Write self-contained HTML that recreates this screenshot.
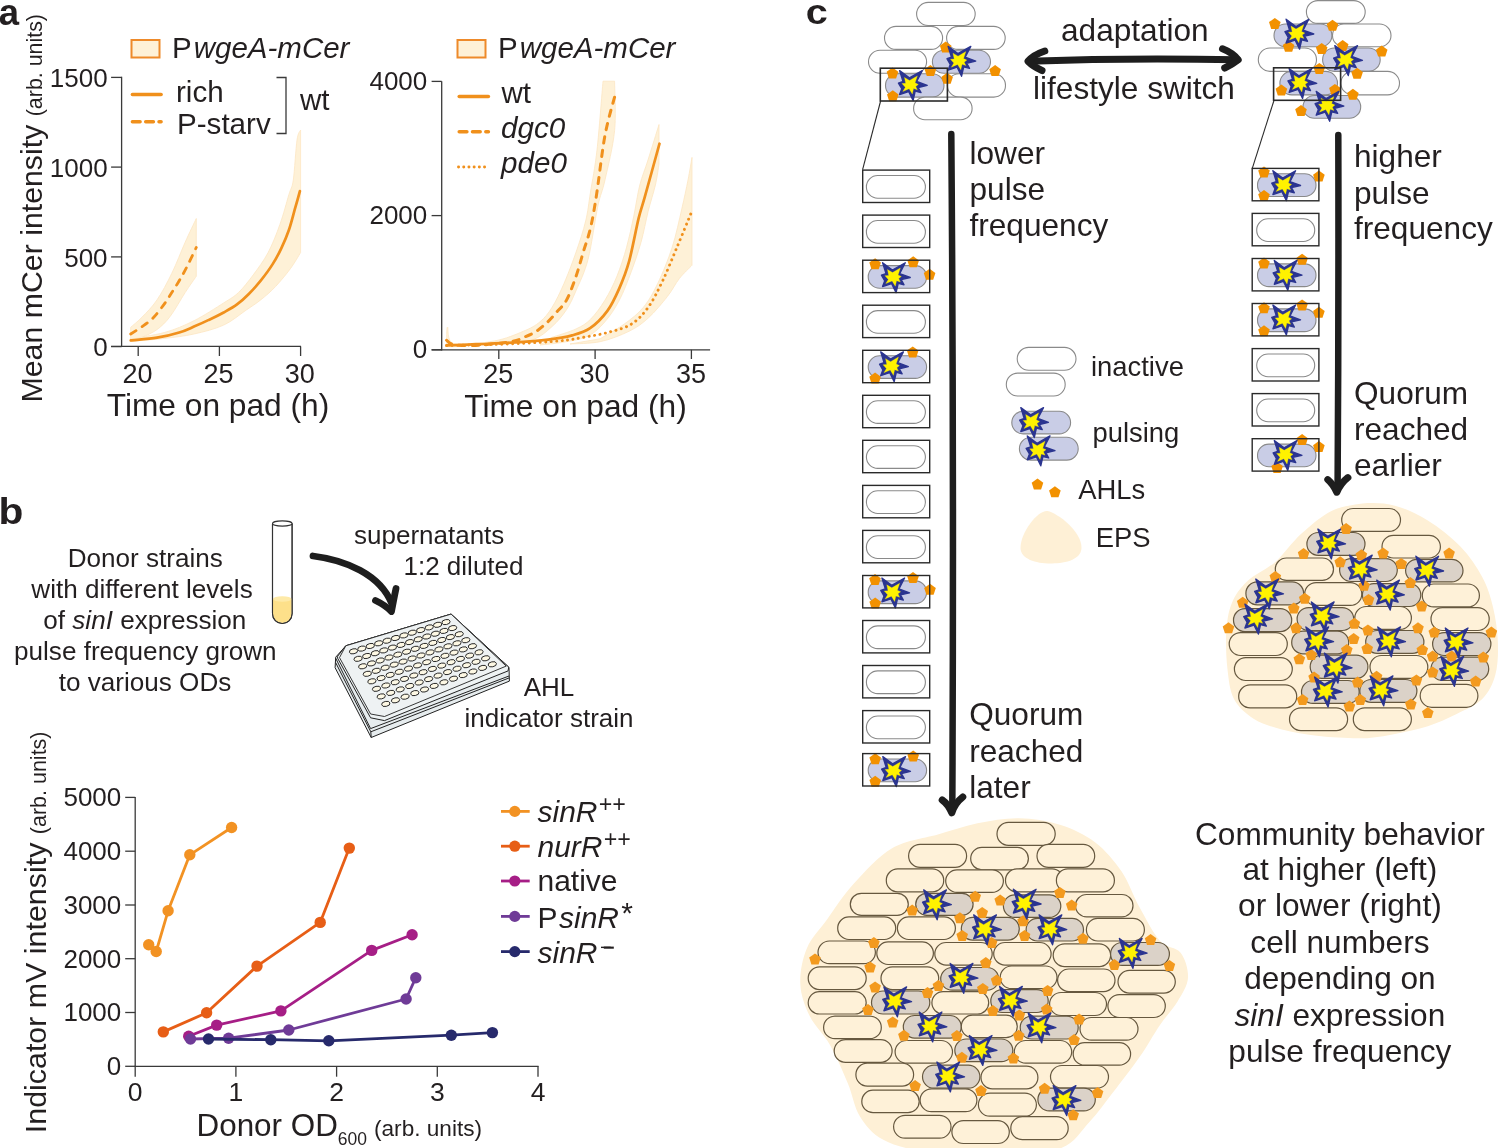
<!DOCTYPE html>
<html><head><meta charset="utf-8"><style>
html,body{margin:0;padding:0;background:#fff;}
svg{display:block;will-change:transform;}
text{font-family:"Liberation Sans",sans-serif;}
</style></head><body>
<svg width="1499" height="1148" viewBox="0 0 1499 1148" font-family="Liberation Sans, sans-serif">
<rect width="1499" height="1148" fill="#fff"/>
<defs><polygon id="pg" points="0,-6.1 5.8,-1.9 3.6,4.9 -3.6,4.9 -5.8,-1.9"/><g id="st"><path d="M-10,-14.8 L0.1,-7.3 L13.4,-14.8 L7.6,-3.6 L18.5,0.4 L9.2,2.6 L12.1,7.9 L6.1,6.4 L3.9,16 L-0.7,6.7 L-10,9.8 L-7.8,3.8 L-11.2,-2 L-6.5,-3.6 Z" fill="#2b3590" stroke="#2b3590" stroke-width="1.4" stroke-linejoin="round" transform="scale(0.97)"/><path d="M-5.3,-7.8 L-0.1,-4.7 L8,-9.4 L5.6,-2.2 L9,-0.6 L6.3,1.5 L8,5 L4.1,3.7 L2.8,9.4 L-0.5,3.9 L-7,6.7 L-4.4,2.4 L-7.9,-1.5 L-4,-1.7 Z" fill="#fff200" stroke="#fff200" stroke-width="0.3" stroke-linejoin="round" transform="translate(0.3,0) scale(0.97)"/></g></defs>
<text x="-1.2" y="24.7" font-size="36.5" font-weight="bold" fill="#231f20">a</text>
<rect x="131.5" y="40" width="28" height="17.5" fill="#fef1d7" stroke="#ee8a2a" stroke-width="2"/>
<text x="172" y="58" font-size="29.5" fill="#231f20">P<tspan dx="2" font-style="italic">wgeA-mCer</tspan></text>
<line x1="132.4" y1="94.4" x2="161.1" y2="94.4" stroke="#f0901c" stroke-width="3.5" stroke-linecap="round"/>
<line x1="132.4" y1="121.8" x2="161.1" y2="121.8" stroke="#f0901c" stroke-width="3.5" stroke-linecap="round" stroke-dasharray="7.7,5.6"/>
<text x="176" y="101.5" font-size="29.6" fill="#231f20">rich</text>
<text x="177" y="133.5" font-size="29.6" fill="#231f20">P-starv</text>
<path d="M276.5,77.5 H286 V133.5 H276.5" fill="none" stroke="#3a3a3a" stroke-width="1.3"/>
<text x="300" y="110.2" font-size="29.6" fill="#231f20">wt</text>
<line x1="121.6" y1="76.8" x2="121.6" y2="347" stroke="#3a3a3a" stroke-width="1.3"/>
<line x1="111.1" y1="346.4" x2="301" y2="346.4" stroke="#3a3a3a" stroke-width="1.3"/>
<line x1="111.1" y1="77.4" x2="121.6" y2="77.4" stroke="#3a3a3a" stroke-width="1.3"/>
<text x="107.6" y="87.2" font-size="26" text-anchor="end" fill="#231f20">1500</text>
<line x1="111.1" y1="167.1" x2="121.6" y2="167.1" stroke="#3a3a3a" stroke-width="1.3"/>
<text x="107.6" y="176.9" font-size="26" text-anchor="end" fill="#231f20">1000</text>
<line x1="111.1" y1="256.9" x2="121.6" y2="256.9" stroke="#3a3a3a" stroke-width="1.3"/>
<text x="107.6" y="266.7" font-size="26" text-anchor="end" fill="#231f20">500</text>
<line x1="111.1" y1="346.6" x2="121.6" y2="346.6" stroke="#3a3a3a" stroke-width="1.3"/>
<text x="107.6" y="356.4" font-size="26" text-anchor="end" fill="#231f20">0</text>
<line x1="138.2" y1="346.4" x2="138.2" y2="356" stroke="#3a3a3a" stroke-width="1.3"/>
<text x="137.4" y="383.2" font-size="27" text-anchor="middle" fill="#231f20">20</text>
<line x1="219.4" y1="346.4" x2="219.4" y2="356" stroke="#3a3a3a" stroke-width="1.3"/>
<text x="218.6" y="383.2" font-size="27" text-anchor="middle" fill="#231f20">25</text>
<line x1="300.6" y1="346.4" x2="300.6" y2="356" stroke="#3a3a3a" stroke-width="1.3"/>
<text x="299.8" y="383.2" font-size="27" text-anchor="middle" fill="#231f20">30</text>
<text x="218" y="415.5" font-size="31.7" text-anchor="middle" fill="#231f20">Time on pad (h)</text>
<text transform="translate(41.5,402.5) rotate(-90)" font-size="30.3" fill="#231f20">Mean mCer intensity <tspan font-size="21.4">(arb. units)</tspan></text>
<path d="M130.7,338.4 C136.3,337.5 153.9,335.5 164.4,332.5 C175,329.6 184.2,325.6 194,320.7 C203.9,315.7 216.3,307.6 223.7,302.9 C231.1,298.2 233.5,297.2 238.5,292.5 C243.4,287.9 248.3,281.4 253.3,274.8 C258.2,268.1 263.6,261 268.1,252.6 C272.5,244.2 276.5,234.1 279.9,224.4 C283.4,214.8 286.6,202.2 288.8,194.8 C291,187.4 291.9,189.1 293.3,180 C294.6,170.9 295.8,148.3 297,140 C298.2,131.7 300,131.7 300.6,130 L300.6,252.6 C298.9,255.3 294.5,263.2 290.3,268.8 C286.1,274.5 280.4,281.4 275.5,286.6 C270.6,291.8 265.6,296 260.7,299.9 C255.7,303.9 252,306.1 245.9,310.3 C239.7,314.5 232.3,321.2 223.7,325.1 C215,329.1 203.9,331.8 194,334 C184.2,336.2 175,337.2 164.4,338.4 C153.9,339.7 136.3,340.9 130.7,341.4 Z" fill="#fef1d7" stroke="#fde6c3" stroke-width="0.8"/>
<path d="M130.7,327.3 C132.6,325.6 137.8,321.5 142.2,317 C146.6,312.4 152.1,307.2 157,299.9 C162,292.7 167.1,282.9 171.8,273.3 C176.5,263.7 181.1,251.3 185.2,242.2 C189.2,233.1 194.4,222.5 196.3,218.5 L196.3,276.3 C194.4,279 189.5,285.9 185.2,292.5 C180.8,299.2 175,310.1 170.3,316.2 C165.7,322.4 161.7,326.1 157,329.6 C152.3,333 146.6,335.4 142.2,337 C137.8,338.6 132.6,338.8 130.7,339.2 Z" fill="#fef1d7" stroke="#fde6c3" stroke-width="0.8"/>
<path d="M130.7,340.4 C135.1,339.9 148.9,339 157,337.7 C165.1,336.4 173.1,334.4 179.2,332.5 C185.4,330.7 189.1,328.7 194,326.6 C199,324.5 203.9,322.3 208.8,319.9 C213.8,317.6 219,315.1 223.7,312.5 C228.3,309.9 232.8,307.5 237,304.4 C241.2,301.3 244.9,298 248.8,294 C252.8,290.1 256.7,285.6 260.7,280.7 C264.6,275.8 269.1,269.8 272.5,264.4 C276,259 278.7,253.8 281.4,248.1 C284.1,242.4 286.6,236.8 288.8,230.3 C291,223.9 292.9,216.2 294.7,209.6 C296.6,203.1 299.1,194.2 299.9,191.1" fill="none" stroke="#f0901c" stroke-width="2.7" stroke-linecap="round"/>
<path d="M130.7,334 C132.6,332.8 138.6,329.2 142.2,326.6 C145.9,324 149.1,321.9 152.6,318.5 C156,315 159.7,310.2 162.9,305.9 C166.2,301.6 169.1,296.7 171.8,292.5 C174.5,288.3 176.8,284.9 179.2,280.7 C181.7,276.5 183.8,272.9 186.6,267.4 C189.5,261.8 194.7,250.7 196.3,247.4" fill="none" stroke="#f0901c" stroke-width="2.8" stroke-linecap="round" stroke-dasharray="6.3,7.3"/>
<rect x="457.5" y="40" width="28" height="17.5" fill="#fef1d7" stroke="#ee8a2a" stroke-width="2"/>
<text x="498" y="57.7" font-size="29.5" fill="#231f20">P<tspan dx="2" font-style="italic">wgeA-mCer</tspan></text>
<line x1="459.2" y1="96.4" x2="488.4" y2="96.4" stroke="#f0901c" stroke-width="3.5" stroke-linecap="round"/>
<line x1="459.2" y1="131.7" x2="488.4" y2="131.7" stroke="#f0901c" stroke-width="3.5" stroke-linecap="round" stroke-dasharray="7.7,5.6"/>
<line x1="458.5" y1="167" x2="489.5" y2="167" stroke="#f0901c" stroke-width="2.9" stroke-linecap="round" stroke-dasharray="0.1,5.1"/>
<text x="501.5" y="103" font-size="29.6" fill="#231f20">wt</text>
<text x="501" y="138" font-size="29.6" font-style="italic" fill="#231f20">dgc0</text>
<text x="501" y="173" font-size="29.6" font-style="italic" fill="#231f20">pde0</text>
<line x1="441.7" y1="81.2" x2="441.7" y2="350.4" stroke="#3a3a3a" stroke-width="1.3"/>
<line x1="431.6" y1="349.8" x2="710.1" y2="349.8" stroke="#3a3a3a" stroke-width="1.3"/>
<line x1="431.6" y1="81.4" x2="441.7" y2="81.4" stroke="#3a3a3a" stroke-width="1.3"/>
<text x="427.3" y="89.8" font-size="26" text-anchor="end" fill="#231f20">4000</text>
<line x1="431.6" y1="215.6" x2="441.7" y2="215.6" stroke="#3a3a3a" stroke-width="1.3"/>
<text x="427.3" y="224" font-size="26" text-anchor="end" fill="#231f20">2000</text>
<line x1="431.6" y1="349.8" x2="441.7" y2="349.8" stroke="#3a3a3a" stroke-width="1.3"/>
<text x="427.3" y="358.2" font-size="26" text-anchor="end" fill="#231f20">0</text>
<line x1="498.8" y1="349.8" x2="498.8" y2="359" stroke="#3a3a3a" stroke-width="1.3"/>
<text x="498.3" y="383.2" font-size="27" text-anchor="middle" fill="#231f20">25</text>
<line x1="595.1" y1="349.8" x2="595.1" y2="359" stroke="#3a3a3a" stroke-width="1.3"/>
<text x="594.6" y="383.2" font-size="27" text-anchor="middle" fill="#231f20">30</text>
<line x1="691.4" y1="349.8" x2="691.4" y2="359" stroke="#3a3a3a" stroke-width="1.3"/>
<text x="690.9" y="383.2" font-size="27" text-anchor="middle" fill="#231f20">35</text>
<text x="575.5" y="416.5" font-size="31.7" text-anchor="middle" fill="#231f20">Time on pad (h)</text>
<path d="M446.6,344.5 C446.8,341.6 446.3,327.1 447.5,327 C448.7,326.9 446.2,341.7 454,344 C461.8,346.3 482.9,343 494.5,340.9 C506.1,338.8 515.7,334.5 523.3,331.3 C530.9,328.1 535.3,325.7 540.1,321.7 C544.9,317.7 548.1,313.7 552.1,307.3 C556.1,300.9 560.1,292.5 564.1,283.3 C568.1,274.1 572.5,262.4 576.1,252 C579.7,241.6 583.3,230.8 585.7,220.8 C588.1,210.8 588.6,203.8 590.5,192 C592.4,180.2 594.9,168.5 597,150 C599.1,131.5 602,92.7 603,81.2 L614.6,81.2 C614.6,89.4 616.2,114 614.6,130.5 C613,147 607.8,167.3 605,180 C602.2,192.7 600.6,193.2 597.8,206.4 C595,219.6 591.7,245.2 588.1,259.2 C584.5,273.2 579.7,282.1 576.1,290.5 C572.5,298.9 570.5,303.7 566.5,309.7 C562.5,315.7 557.7,321.5 552.1,326.5 C546.5,331.5 540.9,336.9 532.9,339.7 C524.9,342.5 516.9,342.2 504.1,343.3 C491.3,344.4 465.6,346 456,346.5 C446.4,347 448.2,346.5 446.6,346.5 Z" fill="#fef1d7" stroke="#fde6c3" stroke-width="0.8"/>
<path d="M552.1,337.3 C556.1,335.9 569.7,331.9 576.1,328.9 C582.5,325.9 585.7,324.1 590.5,319.3 C595.3,314.5 600.6,307.3 605,300.1 C609.4,292.9 613.4,284.9 617,276.1 C620.6,267.3 623.8,257.2 626.6,247.2 C629.4,237.2 631.6,226.4 633.8,216 C636,205.6 637.4,194.3 639.8,185 C642.2,175.7 644.8,170.1 648,160 C651.2,149.9 657.2,130.4 659,124.5 L659,164.1 C658.4,167.6 657.2,177.2 655.4,185 C653.6,192.8 650.6,201.6 648.2,211.2 C645.8,220.8 643.8,232.4 641,242.4 C638.2,252.4 635,261.7 631.4,271.3 C627.8,280.9 623.8,291.7 619.4,300.1 C615,308.5 610.2,315.7 605,321.7 C599.8,327.7 594.9,332.7 588.1,336.1 C581.3,339.5 572.1,340.6 564.1,342.1 C556.1,343.6 544,344.5 540,345 Z" fill="#fef1d7" stroke="#fde6c3" stroke-width="0.8"/>
<path d="M600.2,338.7 C604.2,336.3 617,329.3 624.2,324.1 C631.4,318.9 637.8,314.1 643.4,307.3 C649,300.5 653,293.3 657.8,283.3 C662.6,273.3 668.2,259.6 672.2,247.2 C676.2,234.8 679.2,220 681.8,208.8 C684.4,197.6 686.3,188.6 688,180 C689.7,171.4 691.3,161.2 692,157.4 L692,265.3 C689.9,267.5 683.5,273.3 679.4,278.5 C675.3,283.7 672.6,289.9 667.4,296.5 C662.2,303.1 654.6,312.3 648.2,318.1 C641.8,323.9 637,327.4 629,331.3 C621,335.2 610,339.6 600.2,341.7 C590.4,343.8 575,343.6 570,344 Z" fill="#fef1d7" stroke="#fde6c3" stroke-width="0.8"/>
<path d="M446.6,345.4 C451.5,345.2 465.1,344.7 476,344.2 C486.9,343.7 500,343.4 512,342.6 C524,341.8 538,340.8 548,339.6 C558,338.4 565.1,337.3 572.1,335.4 C579.1,333.5 584.2,332.3 590.1,328.2 C596,324.1 602.5,317.6 607.4,310.9 C612.3,304.2 615.8,296.3 619.4,288.1 C623,279.9 625.8,273.3 629,261.7 C632.2,250.1 636,229.1 638.6,218.4 C641.2,207.7 641.1,210.1 644.6,197.7 C648.1,185.2 657,152.7 659.5,143.7" fill="none" stroke="#f0901c" stroke-width="2.7" stroke-linecap="round"/>
<path d="M446.6,340.2 C447.9,340.9 448.8,343.9 454.4,344.7 C460,345.5 470.4,345.8 480,345.2 C489.6,344.6 504.7,342.7 512,341.4 C519.3,340.1 520,338.8 524,337.2 C528,335.6 532,334.1 536,331.5 C540,328.9 544.6,324.8 548,321.6 C551.4,318.4 553.4,315.9 556.5,312.3 C559.6,308.7 563.2,306.1 566.5,300.1 C569.8,294.1 573.3,284.1 576.1,276.1 C578.9,268.1 580.9,260 583.3,252 C585.7,244 588.3,237.5 590.5,228 C592.7,218.5 594.1,210.4 596.5,195 C598.9,179.6 601.9,151.9 605,135.3 C608.1,118.7 613.3,102.2 615,95.6" fill="none" stroke="#f0901c" stroke-width="3" stroke-linecap="round" stroke-dasharray="6.3,7.3"/>
<path d="M446.6,345.6 C457.5,345.3 493.1,344.6 512,343.8 C530.9,343 548,341.9 560,340.8 C572,339.7 576.1,338.6 584.1,337.2 C592.1,335.8 600.2,334.6 608.1,332.4 C616,330.2 624.7,328.3 631.4,324.1 C638.1,319.9 643,314.5 648.2,307.3 C653.4,300.1 657.8,290.9 662.6,280.9 C667.4,270.9 672.2,258.6 677,247.2 C681.8,235.8 689,218.2 691.4,212.4" fill="none" stroke="#f0901c" stroke-width="2.9" stroke-linecap="round" stroke-dasharray="0.1,5.4"/>
<text transform="translate(-1.6,524.2) scale(1.13,1)" font-size="36" font-weight="bold" fill="#231f20">b</text>
<text x="145.3" y="567" font-size="26.1" text-anchor="middle" fill="#231f20">Donor strains</text>
<text x="142" y="598.2" font-size="26.1" text-anchor="middle" fill="#231f20">with different levels</text>
<text x="144.8" y="629.4" font-size="26.1" text-anchor="middle" fill="#231f20">of <tspan font-style="italic">sinI</tspan> expression</text>
<text x="145.3" y="660" font-size="26.1" text-anchor="middle" fill="#231f20">pulse frequency grown</text>
<text x="145" y="691.3" font-size="26.1" text-anchor="middle" fill="#231f20">to various ODs</text>
<path d="M272.5,523.5 V613.5 A9.8,10 0 0 0 292.1,613.5 V523.5" fill="#fff" stroke="#333" stroke-width="1.1"/>
<path d="M272.9,599 V613.5 A9.4,9.6 0 0 0 291.7,613.5 V599 Z" fill="#fde08a"/>
<ellipse cx="282.3" cy="599" rx="9.4" ry="2.8" fill="#feeaa8"/>
<path d="M272.5,523.5 V613.5 A9.8,10 0 0 0 292.1,613.5 V523.5" fill="none" stroke="#333" stroke-width="1.1"/>
<ellipse cx="282.3" cy="523.5" rx="9.8" ry="2.6" fill="#fff" stroke="#333" stroke-width="1.1"/>
<path d="M313,556 C345,560 380,574 392,604" fill="none" stroke="#1e1e1e" stroke-width="6.8" stroke-linecap="round"/>
<path d="M375.5,600.5 Q385,605 391.5,611.5 Q394,598 396,588.5" fill="none" stroke="#1e1e1e" stroke-width="6.8" stroke-linecap="round" stroke-linejoin="round"/>
<text x="354" y="543.5" font-size="26" fill="#231f20">supernatants</text>
<text x="403.5" y="574.7" font-size="26" fill="#231f20">1:2 diluted</text>
<text x="549" y="696.1" font-size="26" text-anchor="middle" fill="#231f20">AHL</text>
<text x="549" y="726.8" font-size="26" text-anchor="middle" fill="#231f20">indicator strain</text>
<path d="M335.7,657.2 L345.8,645.8 L451.1,614.1 L509,667.4 L509.4,681.1 L371.2,737.5 L335.1,667.7 Z" fill="#e6ecee" stroke="#222" stroke-width="1" stroke-linejoin="round"/>
<path d="M335.7,658.2 L370.6,728.6 L509,676" fill="none" stroke="#222" stroke-width="1" stroke-linejoin="round"/>
<path d="M335.7,662.7 L370.8,731.8 L509.2,677.9" fill="none" stroke="#222" stroke-width="1" stroke-linejoin="round"/>
<path d="M370.8,731.8 L371.2,737.5" fill="none" stroke="#222" stroke-width="1" stroke-linejoin="round"/>
<path d="M345.8,645.8 L451.1,614.1 L508.7,667.1 L508.1,670.9 L384.5,720.6 L370.6,717.8 L337.6,658.2 L337.6,656.3 Z" fill="#eef3f4" stroke="#222" stroke-width="1" stroke-linejoin="round"/>
<path d="M345.8,645.8 L451.1,614.1 L506.2,666.1 L384.5,716.5 L370.6,714 L339.5,657.6 Z" fill="#eef2f3" stroke="#222" stroke-width="0.9" stroke-linejoin="round"/>
<ellipse cx="353.5" cy="651.3" rx="4.2" ry="2.5" fill="#fdf8e4" stroke="#222" stroke-width="0.9" transform="rotate(-12 353.5 651.3)"/>
<ellipse cx="361.9" cy="648.6" rx="4.2" ry="2.5" fill="#fdf8e4" stroke="#222" stroke-width="0.9" transform="rotate(-12 361.9 648.6)"/>
<ellipse cx="370.3" cy="646" rx="4.2" ry="2.5" fill="#fdf8e4" stroke="#222" stroke-width="0.9" transform="rotate(-12 370.3 646)"/>
<ellipse cx="378.7" cy="643.3" rx="4.2" ry="2.5" fill="#fdf8e4" stroke="#222" stroke-width="0.9" transform="rotate(-12 378.7 643.3)"/>
<ellipse cx="387.1" cy="640.7" rx="4.2" ry="2.5" fill="#fdf8e4" stroke="#222" stroke-width="0.9" transform="rotate(-12 387.1 640.7)"/>
<ellipse cx="395.5" cy="638" rx="4.2" ry="2.5" fill="#fdf8e4" stroke="#222" stroke-width="0.9" transform="rotate(-12 395.5 638)"/>
<ellipse cx="403.9" cy="635.4" rx="4.2" ry="2.5" fill="#fdf8e4" stroke="#222" stroke-width="0.9" transform="rotate(-12 403.9 635.4)"/>
<ellipse cx="412.3" cy="632.7" rx="4.2" ry="2.5" fill="#fdf8e4" stroke="#222" stroke-width="0.9" transform="rotate(-12 412.3 632.7)"/>
<ellipse cx="420.7" cy="630.1" rx="4.2" ry="2.5" fill="#fdf8e4" stroke="#222" stroke-width="0.9" transform="rotate(-12 420.7 630.1)"/>
<ellipse cx="429.2" cy="627.4" rx="4.2" ry="2.5" fill="#fdf8e4" stroke="#222" stroke-width="0.9" transform="rotate(-12 429.2 627.4)"/>
<ellipse cx="437.6" cy="624.8" rx="4.2" ry="2.5" fill="#fdf8e4" stroke="#222" stroke-width="0.9" transform="rotate(-12 437.6 624.8)"/>
<ellipse cx="446" cy="622.1" rx="4.2" ry="2.5" fill="#fdf8e4" stroke="#222" stroke-width="0.9" transform="rotate(-12 446 622.1)"/>
<ellipse cx="358.1" cy="658.8" rx="4.2" ry="2.5" fill="#fdf8e4" stroke="#222" stroke-width="0.9" transform="rotate(-12 358.1 658.8)"/>
<ellipse cx="366.7" cy="656" rx="4.2" ry="2.5" fill="#fdf8e4" stroke="#222" stroke-width="0.9" transform="rotate(-12 366.7 656)"/>
<ellipse cx="375.3" cy="653.2" rx="4.2" ry="2.5" fill="#fdf8e4" stroke="#222" stroke-width="0.9" transform="rotate(-12 375.3 653.2)"/>
<ellipse cx="383.8" cy="650.4" rx="4.2" ry="2.5" fill="#fdf8e4" stroke="#222" stroke-width="0.9" transform="rotate(-12 383.8 650.4)"/>
<ellipse cx="392.4" cy="647.6" rx="4.2" ry="2.5" fill="#fdf8e4" stroke="#222" stroke-width="0.9" transform="rotate(-12 392.4 647.6)"/>
<ellipse cx="401" cy="644.9" rx="4.2" ry="2.5" fill="#fdf8e4" stroke="#222" stroke-width="0.9" transform="rotate(-12 401 644.9)"/>
<ellipse cx="409.6" cy="642.1" rx="4.2" ry="2.5" fill="#fdf8e4" stroke="#222" stroke-width="0.9" transform="rotate(-12 409.6 642.1)"/>
<ellipse cx="418.2" cy="639.3" rx="4.2" ry="2.5" fill="#fdf8e4" stroke="#222" stroke-width="0.9" transform="rotate(-12 418.2 639.3)"/>
<ellipse cx="426.8" cy="636.5" rx="4.2" ry="2.5" fill="#fdf8e4" stroke="#222" stroke-width="0.9" transform="rotate(-12 426.8 636.5)"/>
<ellipse cx="435.4" cy="633.7" rx="4.2" ry="2.5" fill="#fdf8e4" stroke="#222" stroke-width="0.9" transform="rotate(-12 435.4 633.7)"/>
<ellipse cx="444" cy="630.9" rx="4.2" ry="2.5" fill="#fdf8e4" stroke="#222" stroke-width="0.9" transform="rotate(-12 444 630.9)"/>
<ellipse cx="452.6" cy="628.1" rx="4.2" ry="2.5" fill="#fdf8e4" stroke="#222" stroke-width="0.9" transform="rotate(-12 452.6 628.1)"/>
<ellipse cx="362.7" cy="666.3" rx="4.2" ry="2.5" fill="#fdf8e4" stroke="#222" stroke-width="0.9" transform="rotate(-12 362.7 666.3)"/>
<ellipse cx="371.5" cy="663.4" rx="4.2" ry="2.5" fill="#fdf8e4" stroke="#222" stroke-width="0.9" transform="rotate(-12 371.5 663.4)"/>
<ellipse cx="380.2" cy="660.5" rx="4.2" ry="2.5" fill="#fdf8e4" stroke="#222" stroke-width="0.9" transform="rotate(-12 380.2 660.5)"/>
<ellipse cx="389" cy="657.5" rx="4.2" ry="2.5" fill="#fdf8e4" stroke="#222" stroke-width="0.9" transform="rotate(-12 389 657.5)"/>
<ellipse cx="397.8" cy="654.6" rx="4.2" ry="2.5" fill="#fdf8e4" stroke="#222" stroke-width="0.9" transform="rotate(-12 397.8 654.6)"/>
<ellipse cx="406.6" cy="651.7" rx="4.2" ry="2.5" fill="#fdf8e4" stroke="#222" stroke-width="0.9" transform="rotate(-12 406.6 651.7)"/>
<ellipse cx="415.3" cy="648.8" rx="4.2" ry="2.5" fill="#fdf8e4" stroke="#222" stroke-width="0.9" transform="rotate(-12 415.3 648.8)"/>
<ellipse cx="424.1" cy="645.9" rx="4.2" ry="2.5" fill="#fdf8e4" stroke="#222" stroke-width="0.9" transform="rotate(-12 424.1 645.9)"/>
<ellipse cx="432.9" cy="642.9" rx="4.2" ry="2.5" fill="#fdf8e4" stroke="#222" stroke-width="0.9" transform="rotate(-12 432.9 642.9)"/>
<ellipse cx="441.7" cy="640" rx="4.2" ry="2.5" fill="#fdf8e4" stroke="#222" stroke-width="0.9" transform="rotate(-12 441.7 640)"/>
<ellipse cx="450.4" cy="637.1" rx="4.2" ry="2.5" fill="#fdf8e4" stroke="#222" stroke-width="0.9" transform="rotate(-12 450.4 637.1)"/>
<ellipse cx="459.2" cy="634.2" rx="4.2" ry="2.5" fill="#fdf8e4" stroke="#222" stroke-width="0.9" transform="rotate(-12 459.2 634.2)"/>
<ellipse cx="367.3" cy="673.8" rx="4.2" ry="2.5" fill="#fdf8e4" stroke="#222" stroke-width="0.9" transform="rotate(-12 367.3 673.8)"/>
<ellipse cx="376.3" cy="670.8" rx="4.2" ry="2.5" fill="#fdf8e4" stroke="#222" stroke-width="0.9" transform="rotate(-12 376.3 670.8)"/>
<ellipse cx="385.2" cy="667.7" rx="4.2" ry="2.5" fill="#fdf8e4" stroke="#222" stroke-width="0.9" transform="rotate(-12 385.2 667.7)"/>
<ellipse cx="394.2" cy="664.6" rx="4.2" ry="2.5" fill="#fdf8e4" stroke="#222" stroke-width="0.9" transform="rotate(-12 394.2 664.6)"/>
<ellipse cx="403.1" cy="661.6" rx="4.2" ry="2.5" fill="#fdf8e4" stroke="#222" stroke-width="0.9" transform="rotate(-12 403.1 661.6)"/>
<ellipse cx="412.1" cy="658.5" rx="4.2" ry="2.5" fill="#fdf8e4" stroke="#222" stroke-width="0.9" transform="rotate(-12 412.1 658.5)"/>
<ellipse cx="421" cy="655.5" rx="4.2" ry="2.5" fill="#fdf8e4" stroke="#222" stroke-width="0.9" transform="rotate(-12 421 655.5)"/>
<ellipse cx="430" cy="652.4" rx="4.2" ry="2.5" fill="#fdf8e4" stroke="#222" stroke-width="0.9" transform="rotate(-12 430 652.4)"/>
<ellipse cx="438.9" cy="649.4" rx="4.2" ry="2.5" fill="#fdf8e4" stroke="#222" stroke-width="0.9" transform="rotate(-12 438.9 649.4)"/>
<ellipse cx="447.9" cy="646.3" rx="4.2" ry="2.5" fill="#fdf8e4" stroke="#222" stroke-width="0.9" transform="rotate(-12 447.9 646.3)"/>
<ellipse cx="456.9" cy="643.3" rx="4.2" ry="2.5" fill="#fdf8e4" stroke="#222" stroke-width="0.9" transform="rotate(-12 456.9 643.3)"/>
<ellipse cx="465.8" cy="640.2" rx="4.2" ry="2.5" fill="#fdf8e4" stroke="#222" stroke-width="0.9" transform="rotate(-12 465.8 640.2)"/>
<ellipse cx="371.9" cy="681.3" rx="4.2" ry="2.5" fill="#fdf8e4" stroke="#222" stroke-width="0.9" transform="rotate(-12 371.9 681.3)"/>
<ellipse cx="381.1" cy="678.1" rx="4.2" ry="2.5" fill="#fdf8e4" stroke="#222" stroke-width="0.9" transform="rotate(-12 381.1 678.1)"/>
<ellipse cx="390.2" cy="674.9" rx="4.2" ry="2.5" fill="#fdf8e4" stroke="#222" stroke-width="0.9" transform="rotate(-12 390.2 674.9)"/>
<ellipse cx="399.3" cy="671.8" rx="4.2" ry="2.5" fill="#fdf8e4" stroke="#222" stroke-width="0.9" transform="rotate(-12 399.3 671.8)"/>
<ellipse cx="408.5" cy="668.6" rx="4.2" ry="2.5" fill="#fdf8e4" stroke="#222" stroke-width="0.9" transform="rotate(-12 408.5 668.6)"/>
<ellipse cx="417.6" cy="665.4" rx="4.2" ry="2.5" fill="#fdf8e4" stroke="#222" stroke-width="0.9" transform="rotate(-12 417.6 665.4)"/>
<ellipse cx="426.7" cy="662.2" rx="4.2" ry="2.5" fill="#fdf8e4" stroke="#222" stroke-width="0.9" transform="rotate(-12 426.7 662.2)"/>
<ellipse cx="435.9" cy="659" rx="4.2" ry="2.5" fill="#fdf8e4" stroke="#222" stroke-width="0.9" transform="rotate(-12 435.9 659)"/>
<ellipse cx="445" cy="655.8" rx="4.2" ry="2.5" fill="#fdf8e4" stroke="#222" stroke-width="0.9" transform="rotate(-12 445 655.8)"/>
<ellipse cx="454.1" cy="652.6" rx="4.2" ry="2.5" fill="#fdf8e4" stroke="#222" stroke-width="0.9" transform="rotate(-12 454.1 652.6)"/>
<ellipse cx="463.3" cy="649.4" rx="4.2" ry="2.5" fill="#fdf8e4" stroke="#222" stroke-width="0.9" transform="rotate(-12 463.3 649.4)"/>
<ellipse cx="472.4" cy="646.2" rx="4.2" ry="2.5" fill="#fdf8e4" stroke="#222" stroke-width="0.9" transform="rotate(-12 472.4 646.2)"/>
<ellipse cx="376.5" cy="688.8" rx="4.2" ry="2.5" fill="#fdf8e4" stroke="#222" stroke-width="0.9" transform="rotate(-12 376.5 688.8)"/>
<ellipse cx="385.9" cy="685.5" rx="4.2" ry="2.5" fill="#fdf8e4" stroke="#222" stroke-width="0.9" transform="rotate(-12 385.9 685.5)"/>
<ellipse cx="395.2" cy="682.2" rx="4.2" ry="2.5" fill="#fdf8e4" stroke="#222" stroke-width="0.9" transform="rotate(-12 395.2 682.2)"/>
<ellipse cx="404.5" cy="678.9" rx="4.2" ry="2.5" fill="#fdf8e4" stroke="#222" stroke-width="0.9" transform="rotate(-12 404.5 678.9)"/>
<ellipse cx="413.8" cy="675.5" rx="4.2" ry="2.5" fill="#fdf8e4" stroke="#222" stroke-width="0.9" transform="rotate(-12 413.8 675.5)"/>
<ellipse cx="423.1" cy="672.2" rx="4.2" ry="2.5" fill="#fdf8e4" stroke="#222" stroke-width="0.9" transform="rotate(-12 423.1 672.2)"/>
<ellipse cx="432.4" cy="668.9" rx="4.2" ry="2.5" fill="#fdf8e4" stroke="#222" stroke-width="0.9" transform="rotate(-12 432.4 668.9)"/>
<ellipse cx="441.8" cy="665.6" rx="4.2" ry="2.5" fill="#fdf8e4" stroke="#222" stroke-width="0.9" transform="rotate(-12 441.8 665.6)"/>
<ellipse cx="451.1" cy="662.2" rx="4.2" ry="2.5" fill="#fdf8e4" stroke="#222" stroke-width="0.9" transform="rotate(-12 451.1 662.2)"/>
<ellipse cx="460.4" cy="658.9" rx="4.2" ry="2.5" fill="#fdf8e4" stroke="#222" stroke-width="0.9" transform="rotate(-12 460.4 658.9)"/>
<ellipse cx="469.7" cy="655.6" rx="4.2" ry="2.5" fill="#fdf8e4" stroke="#222" stroke-width="0.9" transform="rotate(-12 469.7 655.6)"/>
<ellipse cx="479" cy="652.3" rx="4.2" ry="2.5" fill="#fdf8e4" stroke="#222" stroke-width="0.9" transform="rotate(-12 479 652.3)"/>
<ellipse cx="381.2" cy="696.4" rx="4.2" ry="2.5" fill="#fdf8e4" stroke="#222" stroke-width="0.9" transform="rotate(-12 381.2 696.4)"/>
<ellipse cx="390.7" cy="692.9" rx="4.2" ry="2.5" fill="#fdf8e4" stroke="#222" stroke-width="0.9" transform="rotate(-12 390.7 692.9)"/>
<ellipse cx="400.2" cy="689.4" rx="4.2" ry="2.5" fill="#fdf8e4" stroke="#222" stroke-width="0.9" transform="rotate(-12 400.2 689.4)"/>
<ellipse cx="409.7" cy="686" rx="4.2" ry="2.5" fill="#fdf8e4" stroke="#222" stroke-width="0.9" transform="rotate(-12 409.7 686)"/>
<ellipse cx="419.2" cy="682.5" rx="4.2" ry="2.5" fill="#fdf8e4" stroke="#222" stroke-width="0.9" transform="rotate(-12 419.2 682.5)"/>
<ellipse cx="428.6" cy="679.1" rx="4.2" ry="2.5" fill="#fdf8e4" stroke="#222" stroke-width="0.9" transform="rotate(-12 428.6 679.1)"/>
<ellipse cx="438.1" cy="675.6" rx="4.2" ry="2.5" fill="#fdf8e4" stroke="#222" stroke-width="0.9" transform="rotate(-12 438.1 675.6)"/>
<ellipse cx="447.6" cy="672.1" rx="4.2" ry="2.5" fill="#fdf8e4" stroke="#222" stroke-width="0.9" transform="rotate(-12 447.6 672.1)"/>
<ellipse cx="457.1" cy="668.7" rx="4.2" ry="2.5" fill="#fdf8e4" stroke="#222" stroke-width="0.9" transform="rotate(-12 457.1 668.7)"/>
<ellipse cx="466.6" cy="665.2" rx="4.2" ry="2.5" fill="#fdf8e4" stroke="#222" stroke-width="0.9" transform="rotate(-12 466.6 665.2)"/>
<ellipse cx="476.1" cy="661.8" rx="4.2" ry="2.5" fill="#fdf8e4" stroke="#222" stroke-width="0.9" transform="rotate(-12 476.1 661.8)"/>
<ellipse cx="485.6" cy="658.3" rx="4.2" ry="2.5" fill="#fdf8e4" stroke="#222" stroke-width="0.9" transform="rotate(-12 485.6 658.3)"/>
<ellipse cx="385.8" cy="703.9" rx="4.2" ry="2.5" fill="#fdf8e4" stroke="#222" stroke-width="0.9" transform="rotate(-12 385.8 703.9)"/>
<ellipse cx="395.5" cy="700.3" rx="4.2" ry="2.5" fill="#fdf8e4" stroke="#222" stroke-width="0.9" transform="rotate(-12 395.5 700.3)"/>
<ellipse cx="405.1" cy="696.7" rx="4.2" ry="2.5" fill="#fdf8e4" stroke="#222" stroke-width="0.9" transform="rotate(-12 405.1 696.7)"/>
<ellipse cx="414.8" cy="693.1" rx="4.2" ry="2.5" fill="#fdf8e4" stroke="#222" stroke-width="0.9" transform="rotate(-12 414.8 693.1)"/>
<ellipse cx="424.5" cy="689.5" rx="4.2" ry="2.5" fill="#fdf8e4" stroke="#222" stroke-width="0.9" transform="rotate(-12 424.5 689.5)"/>
<ellipse cx="434.2" cy="685.9" rx="4.2" ry="2.5" fill="#fdf8e4" stroke="#222" stroke-width="0.9" transform="rotate(-12 434.2 685.9)"/>
<ellipse cx="443.9" cy="682.3" rx="4.2" ry="2.5" fill="#fdf8e4" stroke="#222" stroke-width="0.9" transform="rotate(-12 443.9 682.3)"/>
<ellipse cx="453.5" cy="678.7" rx="4.2" ry="2.5" fill="#fdf8e4" stroke="#222" stroke-width="0.9" transform="rotate(-12 453.5 678.7)"/>
<ellipse cx="463.2" cy="675.1" rx="4.2" ry="2.5" fill="#fdf8e4" stroke="#222" stroke-width="0.9" transform="rotate(-12 463.2 675.1)"/>
<ellipse cx="472.9" cy="671.5" rx="4.2" ry="2.5" fill="#fdf8e4" stroke="#222" stroke-width="0.9" transform="rotate(-12 472.9 671.5)"/>
<ellipse cx="482.6" cy="667.9" rx="4.2" ry="2.5" fill="#fdf8e4" stroke="#222" stroke-width="0.9" transform="rotate(-12 482.6 667.9)"/>
<ellipse cx="492.3" cy="664.3" rx="4.2" ry="2.5" fill="#fdf8e4" stroke="#222" stroke-width="0.9" transform="rotate(-12 492.3 664.3)"/>
<line x1="135.2" y1="797" x2="135.2" y2="1066.9" stroke="#3a3a3a" stroke-width="1.3"/>
<line x1="134.6" y1="1066.3" x2="538.6" y2="1066.3" stroke="#3a3a3a" stroke-width="1.3"/>
<line x1="125.2" y1="1066.3" x2="135.2" y2="1066.3" stroke="#3a3a3a" stroke-width="1.3"/>
<text x="121.3" y="1075.1" font-size="26" text-anchor="end" fill="#231f20">0</text>
<line x1="125.2" y1="1012.5" x2="135.2" y2="1012.5" stroke="#3a3a3a" stroke-width="1.3"/>
<text x="121.3" y="1021.3" font-size="26" text-anchor="end" fill="#231f20">1000</text>
<line x1="125.2" y1="958.7" x2="135.2" y2="958.7" stroke="#3a3a3a" stroke-width="1.3"/>
<text x="121.3" y="967.5" font-size="26" text-anchor="end" fill="#231f20">2000</text>
<line x1="125.2" y1="905" x2="135.2" y2="905" stroke="#3a3a3a" stroke-width="1.3"/>
<text x="121.3" y="913.8" font-size="26" text-anchor="end" fill="#231f20">3000</text>
<line x1="125.2" y1="851.2" x2="135.2" y2="851.2" stroke="#3a3a3a" stroke-width="1.3"/>
<text x="121.3" y="860" font-size="26" text-anchor="end" fill="#231f20">4000</text>
<line x1="125.2" y1="797.4" x2="135.2" y2="797.4" stroke="#3a3a3a" stroke-width="1.3"/>
<text x="121.3" y="806.2" font-size="26" text-anchor="end" fill="#231f20">5000</text>
<line x1="135.2" y1="1066.3" x2="135.2" y2="1076.7" stroke="#3a3a3a" stroke-width="1.3"/>
<text x="135.2" y="1100.6" font-size="26.5" text-anchor="middle" fill="#231f20">0</text>
<line x1="235.9" y1="1066.3" x2="235.9" y2="1076.7" stroke="#3a3a3a" stroke-width="1.3"/>
<text x="235.9" y="1100.6" font-size="26.5" text-anchor="middle" fill="#231f20">1</text>
<line x1="336.6" y1="1066.3" x2="336.6" y2="1076.7" stroke="#3a3a3a" stroke-width="1.3"/>
<text x="336.6" y="1100.6" font-size="26.5" text-anchor="middle" fill="#231f20">2</text>
<line x1="437.3" y1="1066.3" x2="437.3" y2="1076.7" stroke="#3a3a3a" stroke-width="1.3"/>
<text x="437.3" y="1100.6" font-size="26.5" text-anchor="middle" fill="#231f20">3</text>
<line x1="538" y1="1066.3" x2="538" y2="1076.7" stroke="#3a3a3a" stroke-width="1.3"/>
<text x="538" y="1100.6" font-size="26.5" text-anchor="middle" fill="#231f20">4</text>
<text x="196.5" y="1135.9" font-size="31.4" fill="#231f20">Donor OD<tspan font-size="17.5" dy="9.2">600</tspan><tspan font-size="22.6" dy="-9.2" dx="7">(arb. units)</tspan></text>
<text transform="translate(45.7,1133.2) rotate(-90)" font-size="30.4" fill="#231f20">Indicator mV intensity <tspan font-size="21.5">(arb. units)</tspan></text>
<path d="M148.7,944.8 L156.2,951.5 L168.1,910.8 L189.8,854.8 L231.6,827.5" fill="none" stroke="#f29223" stroke-width="2.8" stroke-linejoin="round"/>
<circle cx="148.7" cy="944.8" r="5.7" fill="#f29223"/>
<circle cx="156.2" cy="951.5" r="5.7" fill="#f29223"/>
<circle cx="168.1" cy="910.8" r="5.7" fill="#f29223"/>
<circle cx="189.8" cy="854.8" r="5.7" fill="#f29223"/>
<circle cx="231.6" cy="827.5" r="5.7" fill="#f29223"/>
<path d="M163.3,1031.9 L206.6,1012.8 L257,966.1 L320.2,922.4 L349.3,848.1" fill="none" stroke="#e75e16" stroke-width="2.8" stroke-linejoin="round"/>
<circle cx="163.3" cy="1031.9" r="5.7" fill="#e75e16"/>
<circle cx="206.6" cy="1012.8" r="5.7" fill="#e75e16"/>
<circle cx="257" cy="966.1" r="5.7" fill="#e75e16"/>
<circle cx="320.2" cy="922.4" r="5.7" fill="#e75e16"/>
<circle cx="349.3" cy="848.1" r="5.7" fill="#e75e16"/>
<path d="M188.7,1036.3 L216.7,1025.1 L280.9,1010.9 L371.7,950.4 L412.1,934.7" fill="none" stroke="#a61e86" stroke-width="2.8" stroke-linejoin="round"/>
<circle cx="188.7" cy="1036.3" r="5.7" fill="#a61e86"/>
<circle cx="216.7" cy="1025.1" r="5.7" fill="#a61e86"/>
<circle cx="280.9" cy="1010.9" r="5.7" fill="#a61e86"/>
<circle cx="371.7" cy="950.4" r="5.7" fill="#a61e86"/>
<circle cx="412.1" cy="934.7" r="5.7" fill="#a61e86"/>
<path d="M190.5,1039 L228.6,1038.2 L288.8,1030 L406.1,999 L415.8,977.7" fill="none" stroke="#6f3b97" stroke-width="2.8" stroke-linejoin="round"/>
<circle cx="190.5" cy="1039" r="5.7" fill="#6f3b97"/>
<circle cx="228.6" cy="1038.2" r="5.7" fill="#6f3b97"/>
<circle cx="288.8" cy="1030" r="5.7" fill="#6f3b97"/>
<circle cx="406.1" cy="999" r="5.7" fill="#6f3b97"/>
<circle cx="415.8" cy="977.7" r="5.7" fill="#6f3b97"/>
<path d="M208.5,1039 L270.8,1039.7 L328.8,1040.8 L451.3,1035.2 L492.4,1032.6" fill="none" stroke="#272a6c" stroke-width="2.8" stroke-linejoin="round"/>
<circle cx="208.5" cy="1039" r="5.7" fill="#272a6c"/>
<circle cx="270.8" cy="1039.7" r="5.7" fill="#272a6c"/>
<circle cx="328.8" cy="1040.8" r="5.7" fill="#272a6c"/>
<circle cx="451.3" cy="1035.2" r="5.7" fill="#272a6c"/>
<circle cx="492.4" cy="1032.6" r="5.7" fill="#272a6c"/>
<line x1="501" y1="811.4" x2="529.7" y2="811.4" stroke="#f29223" stroke-width="2.8"/>
<circle cx="514.8" cy="811.4" r="5.6" fill="#f29223"/>
<text x="537.5" y="821.9" font-size="30" fill="#231f20"><tspan font-style="italic">sinR</tspan><tspan font-size="23" dy="-9.6" dx="1" font-style="italic">++</tspan></text>
<line x1="501" y1="846.2" x2="529.7" y2="846.2" stroke="#e75e16" stroke-width="2.8"/>
<circle cx="514.8" cy="846.2" r="5.6" fill="#e75e16"/>
<text x="537.5" y="856.8" font-size="30" fill="#231f20"><tspan font-style="italic">nurR</tspan><tspan font-size="23" dy="-9.6" dx="1" font-style="italic">++</tspan></text>
<line x1="501" y1="881" x2="529.7" y2="881" stroke="#a61e86" stroke-width="2.8"/>
<circle cx="514.8" cy="881" r="5.6" fill="#a61e86"/>
<text x="537.5" y="891.1" font-size="30" fill="#231f20">native</text>
<line x1="501" y1="916.4" x2="529.7" y2="916.4" stroke="#6f3b97" stroke-width="2.8"/>
<circle cx="514.8" cy="916.4" r="5.6" fill="#6f3b97"/>
<text x="537.5" y="927.8" font-size="30" fill="#231f20">P<tspan font-style="italic" dx="1.5">sinR</tspan><tspan font-size="30" dy="-5" dx="1" font-style="italic">*</tspan></text>
<line x1="501" y1="951.6" x2="529.7" y2="951.6" stroke="#272a6c" stroke-width="2.8"/>
<circle cx="514.8" cy="951.6" r="5.6" fill="#272a6c"/>
<text x="537.5" y="962.7" font-size="30" fill="#231f20"><tspan font-style="italic">sinR</tspan><tspan font-size="20" dy="-8.9" dx="2.5">−</tspan></text>
<rect x="603.8" y="946.6" width="10" height="2.1" fill="#231f20"/>
<text transform="translate(805.8,24.4) scale(1.1,1)" font-size="36" font-weight="bold" fill="#231f20">c</text>
<rect x="916.6" y="2.4" width="58.6" height="23.1" rx="11.6" fill="#ffffff" stroke="#8a8a8a" stroke-width="1.1"/>
<rect x="884.5" y="26.4" width="58.1" height="23" rx="11.5" fill="#ffffff" stroke="#8a8a8a" stroke-width="1.1"/>
<rect x="946.6" y="26.4" width="58.6" height="23" rx="11.5" fill="#ffffff" stroke="#8a8a8a" stroke-width="1.1"/>
<rect x="868.5" y="50.3" width="58.1" height="22.9" rx="11.5" fill="#ffffff" stroke="#8a8a8a" stroke-width="1.1"/>
<rect x="932.4" y="50.3" width="58.1" height="22.9" rx="11.5" fill="#c9cde6" stroke="#8a8a8a" stroke-width="1.1"/>
<rect x="885.5" y="73.7" width="58.5" height="23.4" rx="11.7" fill="#c9cde6" stroke="#8a8a8a" stroke-width="1.1"/>
<rect x="947.4" y="73.7" width="58.1" height="23.4" rx="11.7" fill="#ffffff" stroke="#8a8a8a" stroke-width="1.1"/>
<rect x="913.6" y="97.1" width="58.5" height="22.6" rx="11.3" fill="#ffffff" stroke="#8a8a8a" stroke-width="1.1"/>
<use href="#pg" x="945.7" y="47.7" fill="#f29100"/>
<use href="#pg" x="892.5" y="73.7" fill="#f29100"/>
<use href="#pg" x="930.4" y="71.1" fill="#f29100"/>
<use href="#pg" x="947.1" y="78.9" fill="#f29100"/>
<use href="#pg" x="995.1" y="71.1" fill="#f29100"/>
<use href="#pg" x="892.8" y="96.3" fill="#f29100"/>
<use href="#st" transform="translate(909.3,85)"/>
<use href="#st" transform="translate(957.8,60.7)"/>
<rect x="880.3" y="68.2" width="67.1" height="32.8" fill="none" stroke="#2a2a2a" stroke-width="1.6"/>
<line x1="880.6" y1="101" x2="862.6" y2="169.6" stroke="#2a2a2a" stroke-width="1.1"/>
<rect x="1306.4" y="0.6" width="58.8" height="22.8" rx="11.4" fill="#ffffff" stroke="#8a8a8a" stroke-width="1.1"/>
<rect x="1274" y="24" width="57.9" height="22.8" rx="11.4" fill="#c9cde6" stroke="#8a8a8a" stroke-width="1.1"/>
<rect x="1332.5" y="24" width="58.5" height="22.8" rx="11.4" fill="#ffffff" stroke="#8a8a8a" stroke-width="1.1"/>
<rect x="1258.3" y="48" width="58.2" height="23.4" rx="11.7" fill="#ffffff" stroke="#8a8a8a" stroke-width="1.1"/>
<rect x="1322.6" y="48" width="57.6" height="23.4" rx="11.7" fill="#c9cde6" stroke="#8a8a8a" stroke-width="1.1"/>
<rect x="1279.9" y="71.4" width="57.6" height="23.5" rx="11.8" fill="#c9cde6" stroke="#8a8a8a" stroke-width="1.1"/>
<rect x="1340.9" y="71.4" width="58.6" height="23.5" rx="11.8" fill="#ffffff" stroke="#8a8a8a" stroke-width="1.1"/>
<rect x="1303" y="95.5" width="57.7" height="22.8" rx="11.4" fill="#c9cde6" stroke="#8a8a8a" stroke-width="1.1"/>
<use href="#pg" x="1274.8" y="24" fill="#f29100"/>
<use href="#pg" x="1332.5" y="25.8" fill="#f29100"/>
<use href="#pg" x="1288.6" y="46.8" fill="#f29100"/>
<use href="#pg" x="1321.7" y="49.2" fill="#f29100"/>
<use href="#pg" x="1342.7" y="46.2" fill="#f29100"/>
<use href="#pg" x="1381.7" y="51.6" fill="#f29100"/>
<use href="#pg" x="1319.3" y="69" fill="#f29100"/>
<use href="#pg" x="1357.1" y="73.8" fill="#f29100"/>
<use href="#pg" x="1281.4" y="90.7" fill="#f29100"/>
<use href="#pg" x="1334.9" y="90" fill="#f29100"/>
<use href="#pg" x="1352.9" y="94.9" fill="#f29100"/>
<use href="#pg" x="1301" y="111.1" fill="#f29100"/>
<use href="#st" transform="translate(1295.8,33.6)"/>
<use href="#st" transform="translate(1344.5,60)"/>
<use href="#st" transform="translate(1298.8,82.9)"/>
<use href="#st" transform="translate(1325.9,105.7)"/>
<rect x="1273.6" y="67.8" width="67" height="32.5" fill="none" stroke="#2a2a2a" stroke-width="1.6"/>
<line x1="1274" y1="100.3" x2="1252.2" y2="168.6" stroke="#2a2a2a" stroke-width="1.1"/>
<path d="M1029,61.3 Q1130,57.5 1237.5,59.8" fill="none" stroke="#1e1e1e" stroke-width="7" stroke-linecap="round"/>
<path d="M1044.8,51 Q1033,55 1028,61.3 Q1033,66.5 1042,70.5" fill="none" stroke="#1e1e1e" stroke-width="7" stroke-linecap="round" stroke-linejoin="round"/>
<path d="M1222.5,48.8 Q1233,53 1238.2,59.8 Q1233,64 1224.7,68" fill="none" stroke="#1e1e1e" stroke-width="7" stroke-linecap="round" stroke-linejoin="round"/>
<text x="1061" y="40.7" font-size="31.6" fill="#231f20">adaptation</text>
<text x="1033" y="98.8" font-size="31.6" fill="#231f20">lifestyle switch</text>
<rect x="866.4" y="175.5" width="59" height="22.7" rx="11.3" fill="#ffffff" stroke="#8a8a8a" stroke-width="1.1"/>
<rect x="866.4" y="220.5" width="59" height="22.7" rx="11.3" fill="#ffffff" stroke="#8a8a8a" stroke-width="1.1"/>
<rect x="868.2" y="265.6" width="58.4" height="22.7" rx="11.4" fill="#c9cde6" stroke="#8a8a8a" stroke-width="1.1"/>
<rect x="866.4" y="310.6" width="59" height="22.7" rx="11.4" fill="#ffffff" stroke="#8a8a8a" stroke-width="1.1"/>
<rect x="868.2" y="355.7" width="58.4" height="22.7" rx="11.4" fill="#c9cde6" stroke="#8a8a8a" stroke-width="1.1"/>
<rect x="866.4" y="400.7" width="59" height="22.7" rx="11.4" fill="#ffffff" stroke="#8a8a8a" stroke-width="1.1"/>
<rect x="866.4" y="445.7" width="59" height="22.7" rx="11.4" fill="#ffffff" stroke="#8a8a8a" stroke-width="1.1"/>
<rect x="866.4" y="490.8" width="59" height="22.7" rx="11.4" fill="#ffffff" stroke="#8a8a8a" stroke-width="1.1"/>
<rect x="866.4" y="535.8" width="59" height="22.7" rx="11.4" fill="#ffffff" stroke="#8a8a8a" stroke-width="1.1"/>
<rect x="868.2" y="580.9" width="58.4" height="22.7" rx="11.4" fill="#c9cde6" stroke="#8a8a8a" stroke-width="1.1"/>
<rect x="866.4" y="625.9" width="59" height="22.7" rx="11.4" fill="#ffffff" stroke="#8a8a8a" stroke-width="1.1"/>
<rect x="866.4" y="670.9" width="59" height="22.7" rx="11.4" fill="#ffffff" stroke="#8a8a8a" stroke-width="1.1"/>
<rect x="866.4" y="716" width="59" height="22.7" rx="11.4" fill="#ffffff" stroke="#8a8a8a" stroke-width="1.1"/>
<rect x="868.2" y="759" width="58.4" height="22.7" rx="11.4" fill="#c9cde6" stroke="#8a8a8a" stroke-width="1.1"/>
<use href="#pg" x="875.1" y="264.3" fill="#f29100"/>
<use href="#pg" x="913.2" y="262.4" fill="#f29100"/>
<use href="#pg" x="929.6" y="274.9" fill="#f29100"/>
<use href="#st" transform="translate(892.3,277.1)"/>
<use href="#pg" x="912.7" y="352.5" fill="#f29100"/>
<use href="#pg" x="875.1" y="378.6" fill="#f29100"/>
<use href="#st" transform="translate(890.4,366.2)"/>
<use href="#pg" x="875" y="580.2" fill="#f29100"/>
<use href="#pg" x="913" y="578.2" fill="#f29100"/>
<use href="#pg" x="930" y="589.9" fill="#f29100"/>
<use href="#pg" x="875.2" y="603.6" fill="#f29100"/>
<use href="#st" transform="translate(891.6,592.4)"/>
<use href="#pg" x="875.2" y="759.3" fill="#f29100"/>
<use href="#pg" x="913.2" y="756.6" fill="#f29100"/>
<use href="#pg" x="875.2" y="781.9" fill="#f29100"/>
<use href="#st" transform="translate(892.5,771)"/>
<rect x="862.7" y="170.1" width="67" height="32.4" fill="none" stroke="#2a2a2a" stroke-width="1.4"/>
<rect x="862.7" y="215.1" width="67" height="32.4" fill="none" stroke="#2a2a2a" stroke-width="1.4"/>
<rect x="862.7" y="260.2" width="67" height="32.4" fill="none" stroke="#2a2a2a" stroke-width="1.4"/>
<rect x="862.7" y="305.2" width="67" height="32.4" fill="none" stroke="#2a2a2a" stroke-width="1.4"/>
<rect x="862.7" y="350.3" width="67" height="32.4" fill="none" stroke="#2a2a2a" stroke-width="1.4"/>
<rect x="862.7" y="395.3" width="67" height="32.4" fill="none" stroke="#2a2a2a" stroke-width="1.4"/>
<rect x="862.7" y="440.3" width="67" height="32.4" fill="none" stroke="#2a2a2a" stroke-width="1.4"/>
<rect x="862.7" y="485.4" width="67" height="32.4" fill="none" stroke="#2a2a2a" stroke-width="1.4"/>
<rect x="862.7" y="530.4" width="67" height="32.4" fill="none" stroke="#2a2a2a" stroke-width="1.4"/>
<rect x="862.7" y="575.5" width="67" height="32.4" fill="none" stroke="#2a2a2a" stroke-width="1.4"/>
<rect x="862.7" y="620.5" width="67" height="32.4" fill="none" stroke="#2a2a2a" stroke-width="1.4"/>
<rect x="862.7" y="665.5" width="67" height="32.4" fill="none" stroke="#2a2a2a" stroke-width="1.4"/>
<rect x="862.7" y="710.6" width="67" height="32.4" fill="none" stroke="#2a2a2a" stroke-width="1.4"/>
<rect x="862.7" y="753.6" width="67" height="32.4" fill="none" stroke="#2a2a2a" stroke-width="1.4"/>
<rect x="1257.5" y="173.8" width="58.5" height="22.7" rx="11.3" fill="#c9cde6" stroke="#8a8a8a" stroke-width="1.1"/>
<rect x="1256.7" y="218.8" width="58" height="22.7" rx="11.3" fill="#ffffff" stroke="#8a8a8a" stroke-width="1.1"/>
<rect x="1257.5" y="263.9" width="58.5" height="22.7" rx="11.4" fill="#c9cde6" stroke="#8a8a8a" stroke-width="1.1"/>
<rect x="1257.5" y="308.9" width="58.5" height="22.7" rx="11.4" fill="#c9cde6" stroke="#8a8a8a" stroke-width="1.1"/>
<rect x="1256.7" y="354" width="58" height="22.7" rx="11.4" fill="#ffffff" stroke="#8a8a8a" stroke-width="1.1"/>
<rect x="1256.7" y="399" width="58" height="22.7" rx="11.4" fill="#ffffff" stroke="#8a8a8a" stroke-width="1.1"/>
<rect x="1257.5" y="444.1" width="58.5" height="22.7" rx="11.4" fill="#c9cde6" stroke="#8a8a8a" stroke-width="1.1"/>
<use href="#pg" x="1264" y="172.5" fill="#f29100"/>
<use href="#pg" x="1318.9" y="176.7" fill="#f29100"/>
<use href="#pg" x="1264" y="196.2" fill="#f29100"/>
<use href="#st" transform="translate(1282.6,185.1)"/>
<use href="#pg" x="1264" y="263.7" fill="#f29100"/>
<use href="#pg" x="1302.1" y="259.8" fill="#f29100"/>
<use href="#st" transform="translate(1284,274.8)"/>
<use href="#pg" x="1264" y="308.3" fill="#f29100"/>
<use href="#pg" x="1302.1" y="305.5" fill="#f29100"/>
<use href="#pg" x="1318.9" y="312.8" fill="#f29100"/>
<use href="#pg" x="1264" y="331.4" fill="#f29100"/>
<use href="#st" transform="translate(1282.6,319.4)"/>
<use href="#pg" x="1302.1" y="440.1" fill="#f29100"/>
<use href="#pg" x="1318.9" y="447.1" fill="#f29100"/>
<use href="#pg" x="1277.1" y="468" fill="#f29100"/>
<use href="#st" transform="translate(1284,454.9)"/>
<rect x="1252.2" y="168.4" width="66.7" height="32.4" fill="none" stroke="#2a2a2a" stroke-width="1.4"/>
<rect x="1252.2" y="213.4" width="66.7" height="32.4" fill="none" stroke="#2a2a2a" stroke-width="1.4"/>
<rect x="1252.2" y="258.5" width="66.7" height="32.4" fill="none" stroke="#2a2a2a" stroke-width="1.4"/>
<rect x="1252.2" y="303.5" width="66.7" height="32.4" fill="none" stroke="#2a2a2a" stroke-width="1.4"/>
<rect x="1252.2" y="348.6" width="66.7" height="32.4" fill="none" stroke="#2a2a2a" stroke-width="1.4"/>
<rect x="1252.2" y="393.6" width="66.7" height="32.4" fill="none" stroke="#2a2a2a" stroke-width="1.4"/>
<rect x="1252.2" y="438.7" width="66.7" height="32.4" fill="none" stroke="#2a2a2a" stroke-width="1.4"/>
<path d="M951.3,134 Q954,470 952.3,810" fill="none" stroke="#1e1e1e" stroke-width="6.5" stroke-linecap="round"/>
<path d="M942.2,800 Q948,804 951.8,812.8 Q955,803 962.8,797" fill="none" stroke="#1e1e1e" stroke-width="7" stroke-linecap="round" stroke-linejoin="round"/>
<path d="M1338.3,135 Q1338.8,310 1337.6,488" fill="none" stroke="#1e1e1e" stroke-width="6.5" stroke-linecap="round"/>
<path d="M1327.8,479.6 Q1333,484 1336.8,492.2 Q1341,483 1347.9,477.6" fill="none" stroke="#1e1e1e" stroke-width="7" stroke-linecap="round" stroke-linejoin="round"/>
<text x="969.5" y="164.3" font-size="31.6" fill="#231f20">lower</text>
<text x="969.5" y="200.3" font-size="31.6" fill="#231f20">pulse</text>
<text x="969.5" y="236.4" font-size="31.6" fill="#231f20">frequency</text>
<text x="1354" y="166.8" font-size="31.6" fill="#231f20">higher</text>
<text x="1354" y="203.6" font-size="31.6" fill="#231f20">pulse</text>
<text x="1354" y="239.3" font-size="31.6" fill="#231f20">frequency</text>
<text x="1354" y="403.7" font-size="31.6" fill="#231f20">Quorum</text>
<text x="1354" y="439.9" font-size="31.6" fill="#231f20">reached</text>
<text x="1354" y="476.1" font-size="31.6" fill="#231f20">earlier</text>
<text x="969.2" y="725.4" font-size="31.6" fill="#231f20">Quorum</text>
<text x="969.2" y="761.7" font-size="31.6" fill="#231f20">reached</text>
<text x="969.2" y="797.6" font-size="31.6" fill="#231f20">later</text>
<rect x="1017.2" y="347.4" width="58.8" height="22.9" rx="11.5" fill="#ffffff" stroke="#8a8a8a" stroke-width="1.1"/>
<rect x="1006.3" y="373.1" width="58.9" height="22.9" rx="11.4" fill="#ffffff" stroke="#8a8a8a" stroke-width="1.1"/>
<rect x="1011.8" y="411.3" width="58.8" height="22.6" rx="11.3" fill="#c9cde6" stroke="#8a8a8a" stroke-width="1.1"/>
<rect x="1019.4" y="437.2" width="58.8" height="22.9" rx="11.5" fill="#c9cde6" stroke="#8a8a8a" stroke-width="1.1"/>
<use href="#st" transform="translate(1030.5,422)"/>
<use href="#st" transform="translate(1037,450.3)"/>
<use href="#pg" x="1037.5" y="484.7" fill="#f29100"/>
<use href="#pg" x="1054.9" y="492.3" fill="#f29100"/>
<path d="M1047.5,511 C1058,513 1082,532 1081.5,548 C1081,561 1062,563.5 1050,563.5 C1036,563.5 1020.5,559 1020.5,548 C1020.5,532 1038,510 1047.5,511 Z" fill="#fef0d6"/>
<text x="1091" y="376.2" font-size="27.4" fill="#231f20">inactive</text>
<text x="1092.5" y="442.2" font-size="27.4" fill="#231f20">pulsing</text>
<text x="1078.2" y="499.3" font-size="27.4" fill="#231f20">AHLs</text>
<text x="1095.8" y="546.8" font-size="27.4" fill="#231f20">EPS</text>
<text x="1339.9" y="844.5" font-size="31.6" text-anchor="middle" fill="#231f20">Community behavior</text>
<text x="1339.9" y="880.4" font-size="31.6" text-anchor="middle" fill="#231f20">at higher (left)</text>
<text x="1339.9" y="916.2" font-size="31.6" text-anchor="middle" fill="#231f20">or lower (right)</text>
<text x="1339.9" y="952.8" font-size="31.6" text-anchor="middle" fill="#231f20">cell numbers</text>
<text x="1339.9" y="989.4" font-size="31.6" text-anchor="middle" fill="#231f20">depending on</text>
<text x="1339.9" y="1026" font-size="31.6" text-anchor="middle" fill="#231f20"><tspan font-style="italic">sinI</tspan> expression</text>
<text x="1339.9" y="1061.6" font-size="31.6" text-anchor="middle" fill="#231f20">pulse frequency</text>
<path d="M1332,510.7 C1337,509.5 1351.9,504.3 1362.4,503.5 C1373,502.7 1384.2,502.8 1395.1,505.7 C1406,508.5 1416.9,513.7 1427.8,520.5 C1438.7,527.3 1451.4,537.2 1460.4,546.6 C1469.5,556.1 1476.8,566.9 1482.2,577.1 C1487.7,587.3 1490.5,596.7 1493.1,607.6 C1495.7,618.5 1497.5,631.2 1497.9,642.4 C1498.3,653.7 1497.9,665.7 1495.3,675.1 C1492.7,684.5 1488.7,692.5 1482.2,699.1 C1475.7,705.6 1465.2,709.8 1456.1,714.3 C1447,718.8 1437.9,723 1427.8,726.3 C1417.6,729.5 1406,731.9 1395.1,733.9 C1384.2,735.9 1375.1,737.9 1362.4,738.3 C1349.7,738.6 1332.3,737.5 1318.9,736.1 C1305.5,734.6 1292.8,732.5 1281.9,729.5 C1271,726.6 1261.5,723.7 1253.6,718.7 C1245.6,713.6 1238.3,707.4 1234,699.1 C1229.6,690.7 1228.7,679.8 1227.4,668.6 C1226.2,657.3 1225.6,642.4 1226.3,631.6 C1227.1,620.7 1228.3,611.6 1231.8,603.2 C1235.2,594.9 1239.8,588.4 1247,581.5 C1254.3,574.6 1266.3,569.8 1275.3,561.9 C1284.4,553.9 1292,542.1 1301.5,533.6 C1310.9,525 1321.8,515.7 1332,510.7 C1342.1,505.7 1357.4,504.7 1362.4,503.5 Z" fill="#fef0d6"/>
<rect x="1341.7" y="508.5" width="58.8" height="22.9" rx="11.4" fill="#fef1d8" stroke="#66583f" stroke-width="1.2"/>
<rect x="1306.9" y="532.5" width="58.1" height="22.8" rx="11.4" fill="#dbd2c8" stroke="#66583f" stroke-width="1.2"/>
<rect x="1382" y="535.3" width="58.4" height="22.7" rx="11.4" fill="#fef1d8" stroke="#66583f" stroke-width="1.2"/>
<rect x="1275.3" y="558" width="58.2" height="22.4" rx="11.2" fill="#fef1d8" stroke="#66583f" stroke-width="1.2"/>
<rect x="1339.6" y="558.6" width="57.7" height="22.9" rx="11.4" fill="#dbd2c8" stroke="#66583f" stroke-width="1.2"/>
<rect x="1405.6" y="559.3" width="57.4" height="22.6" rx="11.3" fill="#dbd2c8" stroke="#66583f" stroke-width="1.2"/>
<rect x="1245.9" y="581.9" width="57.7" height="22.9" rx="11.4" fill="#dbd2c8" stroke="#66583f" stroke-width="1.2"/>
<rect x="1304.7" y="582.6" width="57.1" height="22.8" rx="11.4" fill="#fef1d8" stroke="#66583f" stroke-width="1.2"/>
<rect x="1362.4" y="583.6" width="58.4" height="22.9" rx="11.4" fill="#dbd2c8" stroke="#66583f" stroke-width="1.2"/>
<rect x="1422.3" y="584" width="57.1" height="22.9" rx="11.4" fill="#fef1d8" stroke="#66583f" stroke-width="1.2"/>
<rect x="1233.5" y="608.7" width="58.2" height="22.9" rx="11.4" fill="#dbd2c8" stroke="#66583f" stroke-width="1.2"/>
<rect x="1297.1" y="607.6" width="56.6" height="22.9" rx="11.4" fill="#dbd2c8" stroke="#66583f" stroke-width="1.2"/>
<rect x="1354.8" y="606.5" width="56.6" height="22.9" rx="11.4" fill="#fef1d8" stroke="#66583f" stroke-width="1.2"/>
<rect x="1431" y="607.6" width="58.2" height="22.9" rx="11.4" fill="#fef1d8" stroke="#66583f" stroke-width="1.2"/>
<rect x="1229.2" y="632.6" width="58.1" height="22.9" rx="11.4" fill="#fef1d8" stroke="#66583f" stroke-width="1.2"/>
<rect x="1291.7" y="631.1" width="57" height="22.7" rx="11.3" fill="#dbd2c8" stroke="#66583f" stroke-width="1.2"/>
<rect x="1365.7" y="630.5" width="58.2" height="22.8" rx="11.4" fill="#dbd2c8" stroke="#66583f" stroke-width="1.2"/>
<rect x="1432.6" y="632.6" width="58.3" height="22.9" rx="11.4" fill="#dbd2c8" stroke="#66583f" stroke-width="1.2"/>
<rect x="1234.4" y="657.7" width="57.9" height="22.8" rx="11.4" fill="#fef1d8" stroke="#66583f" stroke-width="1.2"/>
<rect x="1310.2" y="655.1" width="57.7" height="23.3" rx="11.6" fill="#dbd2c8" stroke="#66583f" stroke-width="1.2"/>
<rect x="1370" y="655.5" width="57.8" height="22.9" rx="11.4" fill="#fef1d8" stroke="#66583f" stroke-width="1.2"/>
<rect x="1431" y="657.2" width="57.7" height="23.3" rx="11.6" fill="#dbd2c8" stroke="#66583f" stroke-width="1.2"/>
<rect x="1238.7" y="684.9" width="58" height="22.9" rx="11.4" fill="#fef1d8" stroke="#66583f" stroke-width="1.2"/>
<rect x="1301.5" y="680.5" width="57.7" height="22.9" rx="11.4" fill="#dbd2c8" stroke="#66583f" stroke-width="1.2"/>
<rect x="1359.8" y="679.5" width="57.1" height="22.8" rx="11.4" fill="#dbd2c8" stroke="#66583f" stroke-width="1.2"/>
<rect x="1420.2" y="684.3" width="57.7" height="23" rx="11.5" fill="#fef1d8" stroke="#66583f" stroke-width="1.2"/>
<rect x="1289.5" y="707.8" width="58.1" height="22.8" rx="11.4" fill="#fef1d8" stroke="#66583f" stroke-width="1.2"/>
<rect x="1353.3" y="707.8" width="58.1" height="22.8" rx="11.4" fill="#fef1d8" stroke="#66583f" stroke-width="1.2"/>
<use href="#pg" x="1346.1" y="529.2" fill="#f39a1e"/>
<use href="#pg" x="1303.6" y="554.2" fill="#f39a1e"/>
<use href="#pg" x="1361.4" y="555.3" fill="#f39a1e"/>
<use href="#pg" x="1383.1" y="553.6" fill="#f39a1e"/>
<use href="#pg" x="1449.1" y="553.6" fill="#f39a1e"/>
<use href="#pg" x="1340.2" y="562.3" fill="#f39a1e"/>
<use href="#pg" x="1401.2" y="564" fill="#f39a1e"/>
<use href="#pg" x="1275.3" y="577.1" fill="#f39a1e"/>
<use href="#pg" x="1410.3" y="583.2" fill="#f39a1e"/>
<use href="#pg" x="1364.2" y="585.8" fill="#f39a1e"/>
<use href="#pg" x="1304.7" y="598.9" fill="#f39a1e"/>
<use href="#pg" x="1242.7" y="602.8" fill="#f39a1e"/>
<use href="#pg" x="1368.5" y="600" fill="#f39a1e"/>
<use href="#pg" x="1293.8" y="608.7" fill="#f39a1e"/>
<use href="#pg" x="1421.7" y="606.5" fill="#f39a1e"/>
<use href="#pg" x="1354.4" y="623.9" fill="#f39a1e"/>
<use href="#pg" x="1228.5" y="628.3" fill="#f39a1e"/>
<use href="#pg" x="1296" y="628.3" fill="#f39a1e"/>
<use href="#pg" x="1367.9" y="630.5" fill="#f39a1e"/>
<use href="#pg" x="1418" y="628.3" fill="#f39a1e"/>
<use href="#pg" x="1434.3" y="632.6" fill="#f39a1e"/>
<use href="#pg" x="1491.4" y="632.6" fill="#f39a1e"/>
<use href="#pg" x="1353.7" y="639.2" fill="#f39a1e"/>
<use href="#pg" x="1346.8" y="650.1" fill="#f39a1e"/>
<use href="#pg" x="1367.2" y="649" fill="#f39a1e"/>
<use href="#pg" x="1422.3" y="650.1" fill="#f39a1e"/>
<use href="#pg" x="1299.3" y="659.4" fill="#f39a1e"/>
<use href="#pg" x="1311.3" y="655.1" fill="#f39a1e"/>
<use href="#pg" x="1432.6" y="656.6" fill="#f39a1e"/>
<use href="#pg" x="1451.7" y="656.6" fill="#f39a1e"/>
<use href="#pg" x="1483.3" y="657.7" fill="#f39a1e"/>
<use href="#pg" x="1432.6" y="672.5" fill="#f39a1e"/>
<use href="#pg" x="1314.1" y="677.7" fill="#f39a1e"/>
<use href="#pg" x="1376.6" y="676.8" fill="#f39a1e"/>
<use href="#pg" x="1357.6" y="682.7" fill="#f39a1e"/>
<use href="#pg" x="1416.4" y="680.5" fill="#f39a1e"/>
<use href="#pg" x="1475.7" y="681.6" fill="#f39a1e"/>
<use href="#pg" x="1302.6" y="700.1" fill="#f39a1e"/>
<use href="#pg" x="1360.3" y="700.1" fill="#f39a1e"/>
<use href="#pg" x="1349.4" y="706.7" fill="#f39a1e"/>
<use href="#pg" x="1410.8" y="704.5" fill="#f39a1e"/>
<use href="#pg" x="1427.8" y="713.2" fill="#f39a1e"/>
<use href="#st" transform="translate(1327.6,543.4)"/>
<use href="#st" transform="translate(1359.2,569.5)"/>
<use href="#st" transform="translate(1425.6,570.6)"/>
<use href="#st" transform="translate(1265.5,593.4)"/>
<use href="#st" transform="translate(1386.4,594.5)"/>
<use href="#st" transform="translate(1254.6,618.5)"/>
<use href="#st" transform="translate(1321.1,616.3)"/>
<use href="#st" transform="translate(1315.6,641.3)"/>
<use href="#st" transform="translate(1387.5,641.3)"/>
<use href="#st" transform="translate(1455,642.4)"/>
<use href="#st" transform="translate(1334.1,667.5)"/>
<use href="#st" transform="translate(1450.6,670.8)"/>
<use href="#st" transform="translate(1324.3,691.4)"/>
<use href="#st" transform="translate(1379.9,690.3)"/>
<path d="M892.1,848.3 C899.5,846.1 922.1,839.2 936.3,835 C950.5,830.9 963.8,826 977.5,823.2 C991.3,820.5 1005,818 1018.7,818.2 C1032.5,818.5 1047.2,820.7 1059.9,824.7 C1072.7,828.7 1085,834.5 1095.3,842.4 C1105.6,850.2 1114.4,861 1121.8,871.8 C1129.1,882.6 1133,895.6 1139.4,907.1 C1145.8,918.7 1153.2,933.4 1160,941 C1166.9,948.6 1176,946.6 1180.6,952.8 C1185.3,958.9 1188.5,969.7 1188,977.8 C1187.5,985.9 1182.4,993.5 1177.7,1001.3 C1173,1009.2 1166.4,1015.6 1160,1024.9 C1153.6,1034.2 1147.3,1046 1139.4,1057.3 C1131.6,1068.6 1121.3,1081.8 1112.9,1092.6 C1104.6,1103.4 1098.2,1112.7 1089.4,1122 C1080.5,1131.4 1074.7,1143.6 1059.9,1148.5 C1045.2,1153.4 1023.1,1151 1001.1,1151.5 C979,1152 947.1,1153.4 927.5,1151.5 C907.8,1149.5 894.6,1145.6 883.3,1139.7 C872,1133.8 865.7,1125.5 859.8,1116.2 C853.9,1106.8 852.9,1095.5 848,1083.8 C843.1,1072 836.7,1056.8 830.3,1045.5 C823.9,1034.2 814.7,1026.4 809.7,1016.1 C804.7,1005.8 800.8,995 800.3,983.7 C799.8,972.4 802.3,959.2 806.8,948.4 C811.3,937.6 819.5,929.7 827.4,918.9 C835.2,908.1 843.1,895.4 853.9,883.6 C864.7,871.8 878.4,856.4 892.1,848.3 C905.9,840.2 928.9,837.2 936.3,835 Z" fill="#fef0d6"/>
<rect x="997" y="822.4" width="58.2" height="22.9" rx="11.4" fill="#fef1d8" stroke="#66583f" stroke-width="1.2"/>
<rect x="908.6" y="844.4" width="58" height="23" rx="11.5" fill="#fef1d8" stroke="#66583f" stroke-width="1.2"/>
<rect x="970.7" y="847.4" width="57.7" height="22.4" rx="11.2" fill="#fef1d8" stroke="#66583f" stroke-width="1.2"/>
<rect x="1037" y="844.4" width="57.7" height="23" rx="11.5" fill="#fef1d8" stroke="#66583f" stroke-width="1.2"/>
<rect x="886.3" y="868.9" width="57.4" height="22.9" rx="11.4" fill="#fef1d8" stroke="#66583f" stroke-width="1.2"/>
<rect x="945.7" y="869.8" width="57.7" height="22.6" rx="11.3" fill="#fef1d8" stroke="#66583f" stroke-width="1.2"/>
<rect x="1005.5" y="868.9" width="58" height="22.9" rx="11.4" fill="#fef1d8" stroke="#66583f" stroke-width="1.2"/>
<rect x="1056.4" y="868.9" width="58" height="22.9" rx="11.4" fill="#fef1d8" stroke="#66583f" stroke-width="1.2"/>
<rect x="850.3" y="893.3" width="58" height="22.1" rx="11.1" fill="#fef1d8" stroke="#66583f" stroke-width="1.2"/>
<rect x="915.7" y="893.3" width="57.4" height="22.1" rx="11.1" fill="#dbd2c8" stroke="#66583f" stroke-width="1.2"/>
<rect x="1003.4" y="894.8" width="57.4" height="22.6" rx="11.3" fill="#dbd2c8" stroke="#66583f" stroke-width="1.2"/>
<rect x="1075.5" y="894.5" width="57.5" height="22.4" rx="11.2" fill="#fef1d8" stroke="#66583f" stroke-width="1.2"/>
<rect x="837.7" y="916.9" width="58" height="22.6" rx="11.3" fill="#fef1d8" stroke="#66583f" stroke-width="1.2"/>
<rect x="897.4" y="916.9" width="58" height="22.6" rx="11.3" fill="#fef1d8" stroke="#66583f" stroke-width="1.2"/>
<rect x="961.3" y="917.4" width="58" height="22.7" rx="11.4" fill="#dbd2c8" stroke="#66583f" stroke-width="1.2"/>
<rect x="1026.1" y="918.3" width="57.4" height="22.7" rx="11.4" fill="#dbd2c8" stroke="#66583f" stroke-width="1.2"/>
<rect x="1086.4" y="918.3" width="58" height="22.7" rx="11.4" fill="#fef1d8" stroke="#66583f" stroke-width="1.2"/>
<rect x="818" y="941" width="57.4" height="22.7" rx="11.4" fill="#fef1d8" stroke="#66583f" stroke-width="1.2"/>
<rect x="876.8" y="941.9" width="56.6" height="22.6" rx="11.3" fill="#fef1d8" stroke="#66583f" stroke-width="1.2"/>
<rect x="934.8" y="942.5" width="57.4" height="22.6" rx="11.3" fill="#fef1d8" stroke="#66583f" stroke-width="1.2"/>
<rect x="993.7" y="942.5" width="57.4" height="22.6" rx="11.3" fill="#fef1d8" stroke="#66583f" stroke-width="1.2"/>
<rect x="1053.2" y="943.9" width="57.4" height="22.7" rx="11.4" fill="#fef1d8" stroke="#66583f" stroke-width="1.2"/>
<rect x="1110.6" y="942.5" width="58.8" height="22.9" rx="11.4" fill="#dbd2c8" stroke="#66583f" stroke-width="1.2"/>
<rect x="808.2" y="966.9" width="58" height="22.7" rx="11.4" fill="#fef1d8" stroke="#66583f" stroke-width="1.2"/>
<rect x="881" y="966.9" width="57.7" height="22.7" rx="11.4" fill="#fef1d8" stroke="#66583f" stroke-width="1.2"/>
<rect x="940.7" y="967.5" width="58" height="22.7" rx="11.4" fill="#dbd2c8" stroke="#66583f" stroke-width="1.2"/>
<rect x="1000.2" y="966" width="56.8" height="22.7" rx="11.4" fill="#fef1d8" stroke="#66583f" stroke-width="1.2"/>
<rect x="1057.6" y="969" width="57.4" height="22.6" rx="11.3" fill="#fef1d8" stroke="#66583f" stroke-width="1.2"/>
<rect x="1118" y="970.4" width="57.3" height="22.7" rx="11.4" fill="#fef1d8" stroke="#66583f" stroke-width="1.2"/>
<rect x="808.2" y="991.6" width="58" height="22.4" rx="11.2" fill="#fef1d8" stroke="#66583f" stroke-width="1.2"/>
<rect x="871.5" y="991" width="58.3" height="23" rx="11.5" fill="#dbd2c8" stroke="#66583f" stroke-width="1.2"/>
<rect x="931.9" y="991.6" width="56.8" height="22.4" rx="11.2" fill="#fef1d8" stroke="#66583f" stroke-width="1.2"/>
<rect x="990.8" y="989.6" width="57.4" height="22.9" rx="11.4" fill="#dbd2c8" stroke="#66583f" stroke-width="1.2"/>
<rect x="1049.6" y="992.5" width="56.9" height="23" rx="11.5" fill="#fef1d8" stroke="#66583f" stroke-width="1.2"/>
<rect x="1107.9" y="994.6" width="57.4" height="22.9" rx="11.4" fill="#fef1d8" stroke="#66583f" stroke-width="1.2"/>
<rect x="823.6" y="1016.1" width="57.7" height="22.6" rx="11.3" fill="#fef1d8" stroke="#66583f" stroke-width="1.2"/>
<rect x="903.3" y="1015.5" width="58" height="22.6" rx="11.3" fill="#dbd2c8" stroke="#66583f" stroke-width="1.2"/>
<rect x="961.3" y="1015.2" width="56" height="22.4" rx="11.2" fill="#fef1d8" stroke="#66583f" stroke-width="1.2"/>
<rect x="1020.2" y="1016.1" width="58" height="22.9" rx="11.4" fill="#dbd2c8" stroke="#66583f" stroke-width="1.2"/>
<rect x="1080" y="1017.5" width="58" height="22.7" rx="11.4" fill="#fef1d8" stroke="#66583f" stroke-width="1.2"/>
<rect x="834.2" y="1039.6" width="57.9" height="22.7" rx="11.4" fill="#fef1d8" stroke="#66583f" stroke-width="1.2"/>
<rect x="895.1" y="1040.5" width="57.4" height="22.7" rx="11.4" fill="#fef1d8" stroke="#66583f" stroke-width="1.2"/>
<rect x="954.8" y="1039" width="58" height="22.7" rx="11.4" fill="#dbd2c8" stroke="#66583f" stroke-width="1.2"/>
<rect x="1014.3" y="1040.5" width="57.4" height="22.7" rx="11.4" fill="#fef1d8" stroke="#66583f" stroke-width="1.2"/>
<rect x="1073.2" y="1042.6" width="57.4" height="22.6" rx="11.3" fill="#fef1d8" stroke="#66583f" stroke-width="1.2"/>
<rect x="855.9" y="1063.2" width="57.7" height="22.9" rx="11.4" fill="#fef1d8" stroke="#66583f" stroke-width="1.2"/>
<rect x="922.5" y="1065.2" width="57.4" height="23" rx="11.5" fill="#dbd2c8" stroke="#66583f" stroke-width="1.2"/>
<rect x="981" y="1066.1" width="56.9" height="22.7" rx="11.4" fill="#fef1d8" stroke="#66583f" stroke-width="1.2"/>
<rect x="1050.5" y="1065.5" width="58" height="22.7" rx="11.4" fill="#fef1d8" stroke="#66583f" stroke-width="1.2"/>
<rect x="861.8" y="1090.2" width="57.4" height="22.4" rx="11.2" fill="#fef1d8" stroke="#66583f" stroke-width="1.2"/>
<rect x="920.1" y="1088.8" width="56.8" height="22.9" rx="11.5" fill="#fef1d8" stroke="#66583f" stroke-width="1.2"/>
<rect x="978.4" y="1093.2" width="58" height="23" rx="11.5" fill="#fef1d8" stroke="#66583f" stroke-width="1.2"/>
<rect x="1037.9" y="1088.2" width="57.4" height="22.7" rx="11.4" fill="#dbd2c8" stroke="#66583f" stroke-width="1.2"/>
<rect x="893.6" y="1115.3" width="57.4" height="22.9" rx="11.5" fill="#fef1d8" stroke="#66583f" stroke-width="1.2"/>
<rect x="951.9" y="1120.6" width="57.4" height="22.9" rx="11.5" fill="#fef1d8" stroke="#66583f" stroke-width="1.2"/>
<rect x="1010.8" y="1116.7" width="57.4" height="23" rx="11.5" fill="#fef1d8" stroke="#66583f" stroke-width="1.2"/>
<use href="#pg" x="975.2" y="896.8" fill="#f39a1e"/>
<use href="#pg" x="1000.2" y="900.7" fill="#f39a1e"/>
<use href="#pg" x="1059.9" y="893" fill="#f39a1e"/>
<use href="#pg" x="1071.7" y="905.7" fill="#f39a1e"/>
<use href="#pg" x="912.2" y="910.7" fill="#f39a1e"/>
<use href="#pg" x="959.9" y="918.3" fill="#f39a1e"/>
<use href="#pg" x="982.2" y="913" fill="#f39a1e"/>
<use href="#pg" x="1023.1" y="921.3" fill="#f39a1e"/>
<use href="#pg" x="962.2" y="936" fill="#f39a1e"/>
<use href="#pg" x="1024.6" y="936" fill="#f39a1e"/>
<use href="#pg" x="1082.9" y="938.9" fill="#f39a1e"/>
<use href="#pg" x="991.6" y="943.1" fill="#f39a1e"/>
<use href="#pg" x="873.9" y="943.1" fill="#f39a1e"/>
<use href="#pg" x="1150.6" y="940.1" fill="#f39a1e"/>
<use href="#pg" x="815" y="959.5" fill="#f39a1e"/>
<use href="#pg" x="870.1" y="967.5" fill="#f39a1e"/>
<use href="#pg" x="985.8" y="963.1" fill="#f39a1e"/>
<use href="#pg" x="1114.4" y="965.1" fill="#f39a1e"/>
<use href="#pg" x="1169.4" y="966" fill="#f39a1e"/>
<use href="#pg" x="875.1" y="987.5" fill="#f39a1e"/>
<use href="#pg" x="938.4" y="986" fill="#f39a1e"/>
<use href="#pg" x="982.8" y="989" fill="#f39a1e"/>
<use href="#pg" x="996.6" y="980.7" fill="#f39a1e"/>
<use href="#pg" x="1047.6" y="991" fill="#f39a1e"/>
<use href="#pg" x="927.5" y="993.1" fill="#f39a1e"/>
<use href="#pg" x="992.8" y="1011.1" fill="#f39a1e"/>
<use href="#pg" x="868" y="1010.2" fill="#f39a1e"/>
<use href="#pg" x="1046.7" y="1009.6" fill="#f39a1e"/>
<use href="#pg" x="1019.3" y="1015.5" fill="#f39a1e"/>
<use href="#pg" x="892.7" y="1022.5" fill="#f39a1e"/>
<use href="#pg" x="1079.1" y="1019.6" fill="#f39a1e"/>
<use href="#pg" x="903.9" y="1035.8" fill="#f39a1e"/>
<use href="#pg" x="956.9" y="1036.1" fill="#f39a1e"/>
<use href="#pg" x="1018.7" y="1035.8" fill="#f39a1e"/>
<use href="#pg" x="1074.1" y="1040.2" fill="#f39a1e"/>
<use href="#pg" x="961.9" y="1057.9" fill="#f39a1e"/>
<use href="#pg" x="1013.4" y="1058.7" fill="#f39a1e"/>
<use href="#pg" x="915.1" y="1086.1" fill="#f39a1e"/>
<use href="#pg" x="981" y="1091.1" fill="#f39a1e"/>
<use href="#pg" x="1044.6" y="1088.8" fill="#f39a1e"/>
<use href="#pg" x="1097.6" y="1093.2" fill="#f39a1e"/>
<use href="#pg" x="1073.2" y="1115.3" fill="#f39a1e"/>
<use href="#st" transform="translate(933.4,904.2)"/>
<use href="#st" transform="translate(1023.1,903.6)"/>
<use href="#st" transform="translate(983.4,929.2)"/>
<use href="#st" transform="translate(1048.8,929.2)"/>
<use href="#st" transform="translate(1129.1,952.8)"/>
<use href="#st" transform="translate(959.9,977.8)"/>
<use href="#st" transform="translate(893.6,1001.3)"/>
<use href="#st" transform="translate(1009.3,1000.8)"/>
<use href="#st" transform="translate(928.9,1026.4)"/>
<use href="#st" transform="translate(1037.9,1027.3)"/>
<use href="#st" transform="translate(979,1049.9)"/>
<use href="#st" transform="translate(946.6,1076.4)"/>
<use href="#st" transform="translate(1062.9,1100)"/>
</svg></body></html>
